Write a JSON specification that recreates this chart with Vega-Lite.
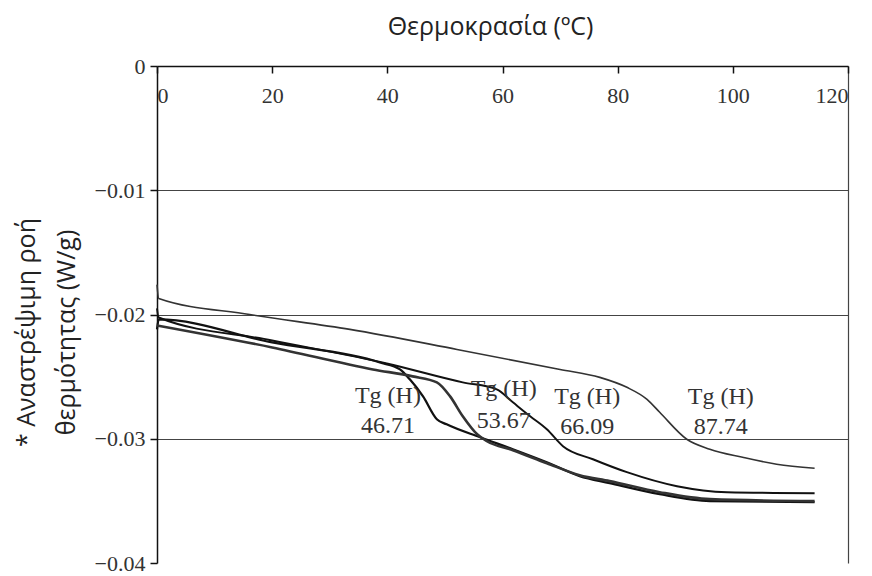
{
  "$schema": "https://vega.github.io/schema/vega-lite/v6.json",
  "width": 691,
  "height": 497,
  "autosize": "none",
  "padding": {"left": 157, "top": 66, "right": 24, "bottom": 13},
  "background": "white",
  "config": {"view": {"stroke": null}},
  "title": {
    "text": "Θερμοκρασία (ºC)",
    "font": "Open Sans",
    "fontSize": 25,
    "fontWeight": "normal",
    "color": "#222",
    "anchor": "middle",
    "frame": "group",
    "dx": -12,
    "offset": 15
  },
  "layer": [
    {
      "data": {
        "values": [
          {"s": "87.74", "T": 0, "v": -0.0176},
          {"s": "87.74", "T": 0.3, "v": -0.01871},
          {"s": "87.74", "T": 16.1, "v": -0.0200},
          {"s": "87.74", "T": 33.5, "v": -0.0212},
          {"s": "87.74", "T": 52.1, "v": -0.02281},
          {"s": "87.74", "T": 70.0, "v": -0.02442},
          {"s": "87.74", "T": 76.9, "v": -0.02506},
          {"s": "87.74", "T": 81.6, "v": -0.02586},
          {"s": "87.74", "T": 85.1, "v": -0.02683},
          {"s": "87.74", "T": 87.3, "v": -0.02787},
          {"s": "87.74", "T": 92.0, "v": -0.03004},
          {"s": "87.74", "T": 96.0, "v": -0.03084},
          {"s": "87.74", "T": 101.7, "v": -0.03149},
          {"s": "87.74", "T": 107.6, "v": -0.03205},
          {"s": "87.74", "T": 114.2, "v": -0.03237},

          {"s": "66.09", "T": 0, "v": -0.0195},
          {"s": "66.09", "T": 0.3, "v": -0.02024},
          {"s": "66.09", "T": 20, "v": -0.02209},
          {"s": "66.09", "T": 39.9, "v": -0.02394},
          {"s": "66.09", "T": 53.1, "v": -0.02546},
          {"s": "66.09", "T": 59.0, "v": -0.02602},
          {"s": "66.09", "T": 61.8, "v": -0.02707},
          {"s": "66.09", "T": 64.8, "v": -0.02819},
          {"s": "66.09", "T": 67.7, "v": -0.02924},
          {"s": "66.09", "T": 70.5, "v": -0.0306},
          {"s": "66.09", "T": 75.7, "v": -0.03165},
          {"s": "66.09", "T": 81.6, "v": -0.03269},
          {"s": "66.09", "T": 90.3, "v": -0.03382},
          {"s": "66.09", "T": 99.0, "v": -0.0343},
          {"s": "66.09", "T": 114.2, "v": -0.03438},

          {"s": "46.71", "T": 0, "v": -0.0212},
          {"s": "46.71", "T": 0.3, "v": -0.0204},
          {"s": "46.71", "T": 20, "v": -0.02225},
          {"s": "46.71", "T": 38.7, "v": -0.02386},
          {"s": "46.71", "T": 42.2, "v": -0.02442},
          {"s": "46.71", "T": 43.9, "v": -0.02522},
          {"s": "46.71", "T": 46.2, "v": -0.02659},
          {"s": "46.71", "T": 48.6, "v": -0.02843},
          {"s": "46.71", "T": 50.3, "v": -0.02884},
          {"s": "46.71", "T": 56.1, "v": -0.02988},
          {"s": "46.71", "T": 61.8, "v": -0.03084},
          {"s": "46.71", "T": 67.7, "v": -0.03189},
          {"s": "46.71", "T": 73.4, "v": -0.03301},
          {"s": "46.71", "T": 78.6, "v": -0.03357},
          {"s": "46.71", "T": 87.3, "v": -0.03446},
          {"s": "46.71", "T": 96.0, "v": -0.03502},
          {"s": "46.71", "T": 114.2, "v": -0.0351},

          {"s": "53.67", "T": 0, "v": -0.02088},
          {"s": "53.67", "T": 20, "v": -0.02265},
          {"s": "53.67", "T": 37.5, "v": -0.02442},
          {"s": "53.67", "T": 44.4, "v": -0.02498},
          {"s": "53.67", "T": 48.6, "v": -0.02546},
          {"s": "53.67", "T": 50.9, "v": -0.02659},
          {"s": "53.67", "T": 53.1, "v": -0.02819},
          {"s": "53.67", "T": 55.6, "v": -0.02964},
          {"s": "53.67", "T": 57.3, "v": -0.0302},
          {"s": "53.67", "T": 61.8, "v": -0.03092},
          {"s": "53.67", "T": 67.7, "v": -0.03197},
          {"s": "53.67", "T": 73.4, "v": -0.03293},
          {"s": "53.67", "T": 78.6, "v": -0.03341},
          {"s": "53.67", "T": 87.3, "v": -0.0343},
          {"s": "53.67", "T": 96.0, "v": -0.03486},
          {"s": "53.67", "T": 114.2, "v": -0.03502}
        ]
      },
      "mark": {"type": "line", "interpolate": "monotone"},
      "encoding": {
        "x": {
          "field": "T",
          "type": "quantitative",
          "scale": {"domain": [0, 120], "nice": false, "zero": false},
          "axis": {
            "orient": "bottom",
            "offset": -497,
            "values": [0, 20, 40, 60, 80, 100, 120],
            "title": null,
            "labelFont": "Liberation Serif",
            "labelFontSize": 22,
            "labelColor": "#333",
            "labelPadding": 12,
            "tickSize": 7,
            "tickColor": "#111",
            "tickWidth": 1.5,
            "domainColor": "#111",
            "domainWidth": 1.5,
            "grid": true,
            "gridColor": "#444",
            "gridWidth": 1.2,
            "gridOpacity": {"condition": {"test": "datum.value == 120", "value": 1}, "value": 0}
          }
        },
        "y": {
          "field": "v",
          "type": "quantitative",
          "scale": {"domain": [-0.04, 0], "nice": false, "zero": false},
          "axis": {
            "values": [0, -0.01, -0.02, -0.03, -0.04],
            "format": "~g",
            "title": ["* Αναστρέψιμη ροή", "θερμότητας (W/g)"],
            "titleFont": "Open Sans",
            "titleFontSize": 25,
            "titleFontWeight": "normal",
            "titleColor": "#222",
            "titleLineHeight": 40,
            "titleAngle": -90,
            "titleAlign": "center",
            "titleBaseline": "top",
            "titleX": -143,
            "titleY": 266,
            "labelFont": "Liberation Serif",
            "labelFontSize": 22,
            "labelColor": "#333",
            "labelPadding": 5,
            "tickSize": 7,
            "tickColor": "#111",
            "tickWidth": 1.5,
            "domainColor": "#111",
            "domainWidth": 1.5,
            "grid": true,
            "gridColor": "#444",
            "gridWidth": 1.2,
            "gridOpacity": {"condition": {"test": "datum.value == 0 || datum.value == -0.04", "value": 0}, "value": 1}
          }
        },
        "color": {
          "field": "s",
          "type": "nominal",
          "scale": {"domain": ["87.74", "66.09", "46.71", "53.67"], "range": ["#333333", "#111111", "#111111", "#333333"]},
          "legend": null
        },
        "size": {
          "field": "s",
          "type": "nominal",
          "scale": {"domain": ["87.74", "66.09", "46.71", "53.67"], "range": [1.6, 2.6, 2.6, 1.4]},
          "legend": null
        }
      }
    },
    {
      "data": {
        "values": [
          {"T": 40.1, "v": -0.02659, "label": "Tg (H)"},
          {"T": 40.1, "v": -0.0290, "label": "46.71"},
          {"T": 60.2, "v": -0.02602, "label": "Tg (H)"},
          {"T": 60.2, "v": -0.02859, "label": "53.67"},
          {"T": 74.7, "v": -0.02667, "label": "Tg (H)"},
          {"T": 74.7, "v": -0.02908, "label": "66.09"},
          {"T": 97.9, "v": -0.02667, "label": "Tg (H)"},
          {"T": 97.9, "v": -0.02908, "label": "87.74"}
        ]
      },
      "mark": {"type": "text", "font": "Liberation Serif", "fontSize": 24, "color": "#333", "align": "center", "baseline": "middle"},
      "encoding": {
        "x": {"field": "T", "type": "quantitative"},
        "y": {"field": "v", "type": "quantitative"},
        "text": {"field": "label"}
      }
    }
  ]
}
